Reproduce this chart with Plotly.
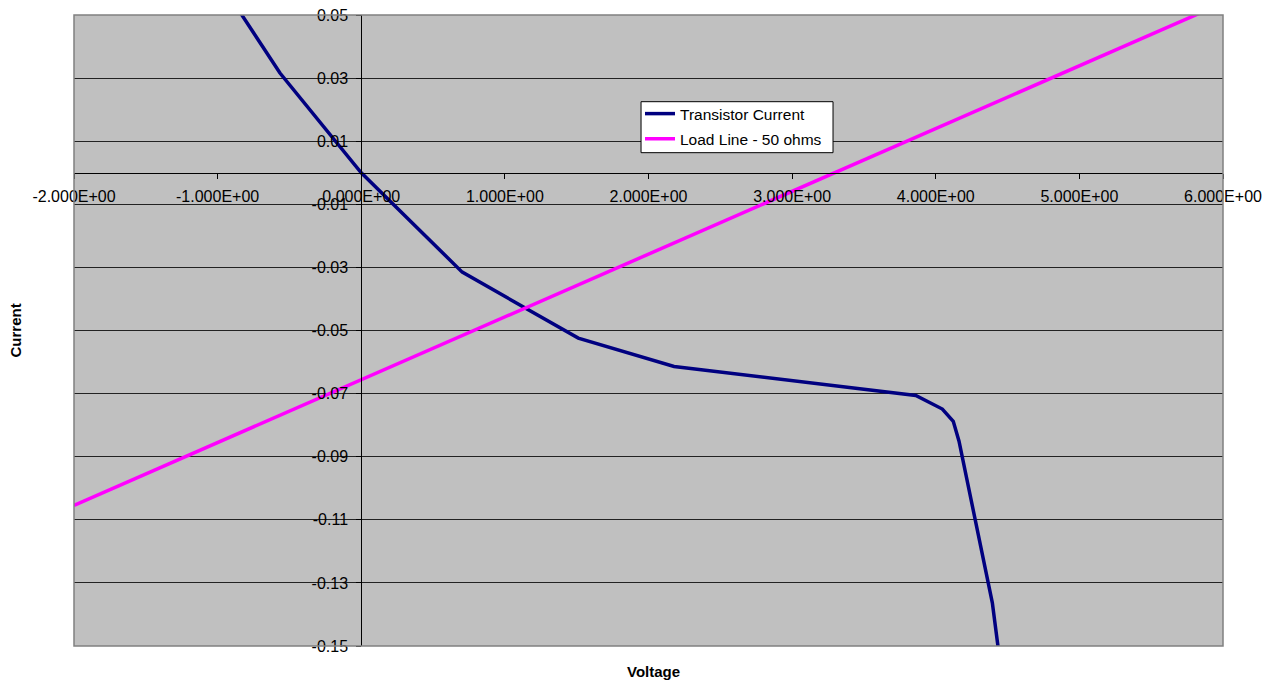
import plotly.graph_objects as go

# Transistor current curve (Voltage, Current)
transistor_v = [-1.00, -0.831, -0.566, 0.0, 0.703, 1.511, 2.178, 3.861, 4.046, 4.122, 4.162, 4.394, 4.434, 4.45]
transistor_i = [0.0617, 0.0500, 0.0316, 0.0, -0.0315, -0.0524, -0.0614, -0.0706, -0.0749, -0.0788, -0.0851, -0.1363, -0.1505, -0.1560]

# Load line - 50 ohms
load_v = [-2, -1, 0, 1, 2, 3, 4, 5, 6]
load_i = [-0.1054, -0.0855, -0.0656, -0.0457, -0.0258, -0.0059, 0.0140, 0.0339, 0.0538]

x_ticks = [-2, -1, 0, 1, 2, 3, 4, 5, 6]
x_tick_labels = ["-2.000E+00", "-1.000E+00", "0.000E+00", "1.000E+00", "2.000E+00",
                 "3.000E+00", "4.000E+00", "5.000E+00", "6.000E+00"]
y_ticks = [0.05, 0.03, 0.01, -0.01, -0.03, -0.05, -0.07, -0.09, -0.11, -0.13, -0.15]
y_tick_labels = ["0.05", "0.03", "0.01", "-0.01", "-0.03", "-0.05", "-0.07", "-0.09", "-0.11", "-0.13", "-0.15"]

X_RANGE = [-2, 6]
Y_RANGE = [-0.15, 0.05]

FONT = "Liberation Sans, Arial, sans-serif"

fig = go.Figure()
fig.add_trace(go.Scatter(x=transistor_v, y=transistor_i, mode="lines",
                         name="Transistor Current", legendgroup="a",
                         line=dict(color="#000080", width=3.5)))
fig.add_trace(go.Scatter(x=load_v, y=load_i, mode="lines",
                         name="Load Line - 50 ohms", legendgroup="b",
                         line=dict(color="#FF00FF", width=3.5)))

x_pos = (0 - X_RANGE[0]) / (X_RANGE[1] - X_RANGE[0])
y_pos = (0 - Y_RANGE[0]) / (Y_RANGE[1] - Y_RANGE[0])

fig.update_layout(
    width=1274, height=683,
    margin=dict(l=66, r=59, t=7, b=45, autoexpand=False),
    paper_bgcolor="white",
    plot_bgcolor="#C0C0C0",
    font=dict(family=FONT, size=16, color="black"),
    showlegend=True,
    legend=dict(x=0.4926, y=0.870, xanchor="left", yanchor="top",
                bgcolor="rgba(0,0,0,0)", borderwidth=0,
                font=dict(size=15.5, family=FONT), tracegroupgap=2),
    xaxis=dict(range=X_RANGE, tickvals=x_ticks, ticktext=x_tick_labels,
               showgrid=False, zeroline=False, showline=True, linecolor="black",
               linewidth=1, ticks="outside", ticklen=5, tickcolor="black",
               anchor="free", position=y_pos, domain=[0, 1], automargin=False,
               ticklabelstandoff=4, ticklabeloverflow="allow",
               tickfont=dict(size=16)),
    yaxis=dict(range=Y_RANGE, tickvals=y_ticks, ticktext=y_tick_labels,
               showgrid=True, gridcolor="#222222", gridwidth=1,
               zeroline=False, showline=True, linecolor="black",
               linewidth=1, ticks="outside", ticklen=5, tickcolor="black",
               anchor="free", position=x_pos, domain=[0, 1], automargin=False,
               ticklabelstandoff=5, ticklabeloverflow="allow",
               tickfont=dict(size=16)),
    shapes=[
        dict(type="rect", xref="paper", yref="paper", x0=0, y0=0, x1=1, y1=1,
             line=dict(color="#808080", width=1.5), layer="above"),
        dict(type="rect", xref="paper", yref="paper", x0=0.4935, y0=0.7818, x1=0.6606, y1=0.8626,
             line=dict(color="black", width=1), fillcolor="white", layer="above"),
    ],
    annotations=[
        dict(text="<b>Voltage</b>", xref="paper", yref="paper", x=0.5045, y=-0.0412,
             xanchor="center", yanchor="middle", showarrow=False,
             font=dict(size=15, family=FONT)),
        dict(text="<b>Current</b>", xref="paper", yref="paper", x=-0.0505, y=0.5,
             xanchor="center", yanchor="middle", showarrow=False, textangle=-90,
             font=dict(size=15, family=FONT)),
    ],
)

fig.write_html("out.html")
